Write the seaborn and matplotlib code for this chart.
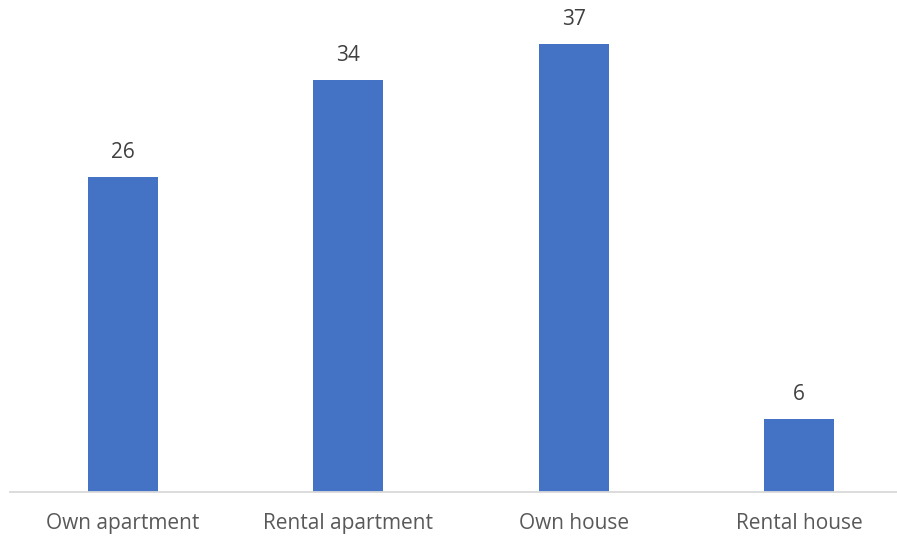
import matplotlib
matplotlib.use("Agg")
import matplotlib.pyplot as plt
import seaborn as sns
import pandas as pd

categories = ["Own apartment", "Rental apartment", "Own house", "Rental house"]
values = [26, 34, 37, 6]

sns.set_theme(style="white")
plt.rcParams["font.family"] = ["Open Sans", "DejaVu Sans"]

W, H = 897, 538
fig = plt.figure(figsize=(W / 100, H / 100), dpi=100)
ax = fig.add_axes([10 / W, (H - 492) / H, (W - 10) / W, 492 / H])

df = pd.DataFrame({"category": categories, "value": values})
sns.barplot(data=df, x="category", y="value", color="#4472C4", saturation=1,
            width=0.31, linewidth=0, ax=ax)

for i, v in enumerate(values):
    ax.annotate(f"{v}", (i, v), xytext=(0, 13.7), textcoords="offset points",
                ha="center", va="baseline", fontsize=15, color="#404040")

ax.set_xlim(-0.5016, 3.435)
ax.set_ylim(0, 40.63)
ax.set_xlabel("")
ax.set_ylabel("")
ax.set_yticks([])
ax.tick_params(axis="x", length=0, pad=15, labelsize=15, labelcolor="#595959")
for s in ["top", "right", "left"]:
    ax.spines[s].set_visible(False)
ax.spines["bottom"].set_color("#d9d9d9")
ax.spines["bottom"].set_linewidth(1.3)

fig.savefig("out.png", dpi=100)
